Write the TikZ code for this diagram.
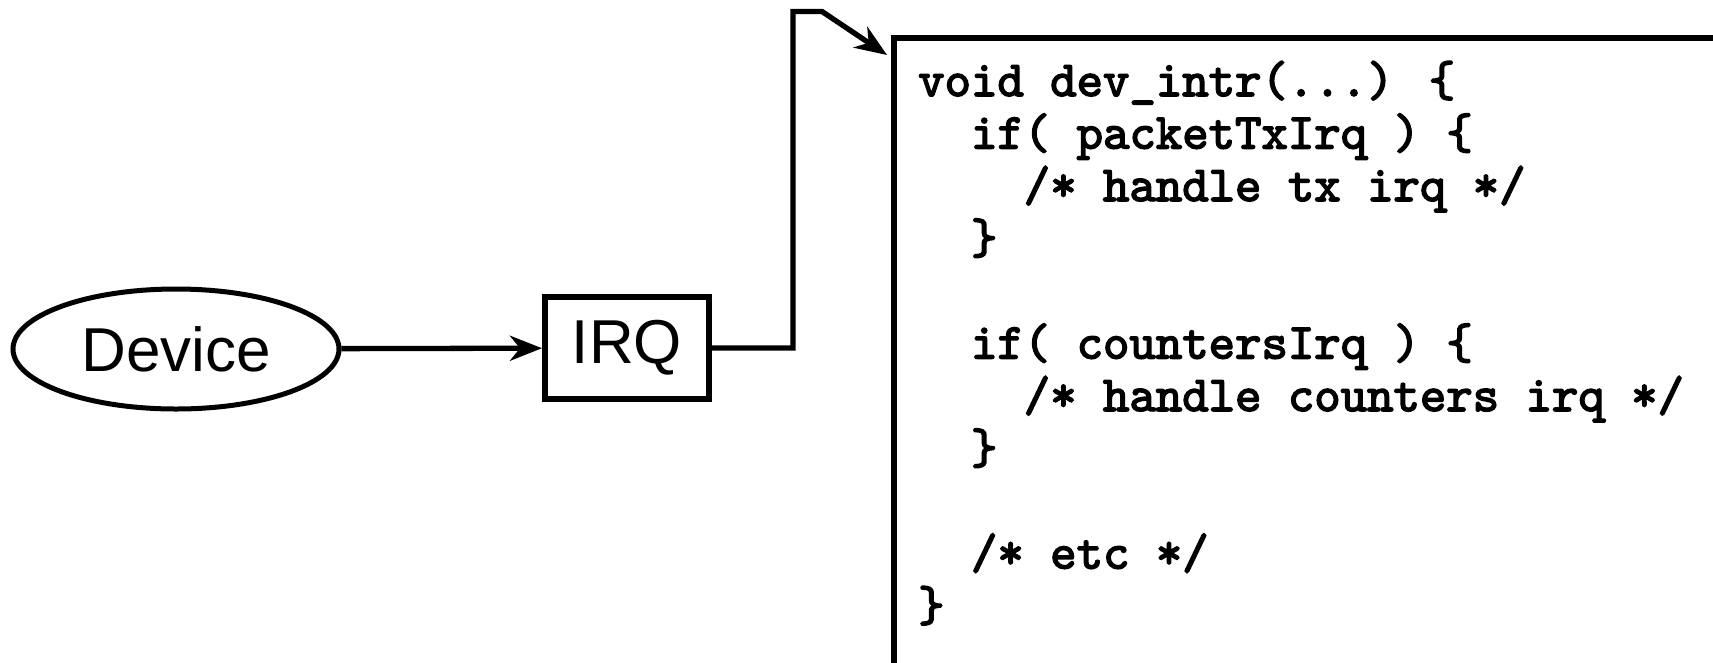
\documentclass[tikz,border=0pt]{standalone}
\usepackage{fontspec}
\setmainfont{Liberation Sans}
\newfontfamily\codefont{lmmono10-regular.otf}[FakeBold=3]
\usetikzlibrary{arrows.meta,shapes.geometric,calc}
\begin{document}
\begin{tikzpicture}[x=1pt,y=-1pt,
  conn/.style={line width=5.3pt,-{Stealth[length=32pt,width=25pt,inset=10pt]}},
  lbl/.style={font=\fontsize{62}{70}\selectfont, inner sep=0pt},
  codeline/.style={font=\codefont\fontsize{50.3}{52}\selectfont, anchor=base west, inner sep=0pt}
]
\useasboundingbox (0,0) rectangle (1713,662);
\clip (0,0) rectangle (1713,662);
\node[draw, ellipse, line width=5pt, minimum width=326pt, minimum height=120pt, lbl] (dev) at (176,349) {Device};
\node[draw, rectangle, line width=6pt, minimum width=164pt, minimum height=102pt, lbl] (irq) at (627,348) {IRQ};
\node[draw, rectangle, line width=6pt, anchor=north west, minimum width=900pt, minimum height=629pt, inner sep=0pt] (codebox) at (891,34.5) {};
\coordinate (c1) at (793,11.5);
\coordinate (c2) at (822,11.5);
\coordinate (tip) at ($(codebox.north west)+(-4,20.5)$);
\draw[conn] (dev) -- (irq);
\draw[conn] (irq.east) -| (c1) -- (c2) -- (tip);
\node[codeline] (l1) at (918,96) {void dev\_intr(...) \{};
\node[codeline] (l2) at (970.8,148.5) {if( packetTxIrq ) \{};
\node[codeline] (l3) at (1023.6,201) {/* handle tx irq */};
\node[codeline] (l4) at (970.8,253.5) {\}};
\node[codeline] (l5) at (970.8,358.5) {if( countersIrq ) \{};
\node[codeline] (l6) at (1023.6,411) {/* handle counters irq */};
\node[codeline] (l7) at (970.8,463.5) {\}};
\node[codeline] (l8) at (970.8,568.5) {/* etc */};
\node[codeline] (l9) at (918,621) {\}};
\end{tikzpicture}
\end{document}
